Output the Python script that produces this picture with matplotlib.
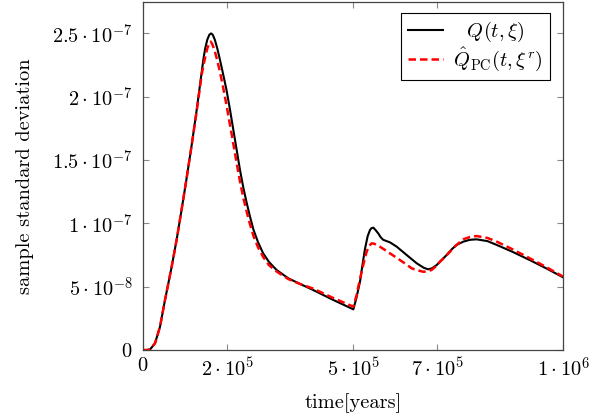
import matplotlib
matplotlib.use("Agg")
import matplotlib.pyplot as plt

plt.rcParams['font.family'] = 'serif'
plt.rcParams['font.serif'] = ['cmr10']
plt.rcParams['mathtext.fontset'] = 'cm'
plt.rcParams['axes.unicode_minus'] = False

# time in years
t_q = [0, 10e3, 17e3, 28.6e3, 40.5e3, 52.4e3, 68.3e3, 80e3, 92e3, 104e3, 116e3, 128e3,
       140e3, 144e3, 148e3, 153e3, 158e3, 162e3, 166e3, 171e3, 177e3, 183e3, 191e3, 199e3,
       207e3, 215e3, 223e3, 231e3, 239e3, 247e3, 255e3, 263e3, 274e3, 286e3, 300e3, 318e3,
       346e3, 375e3, 405e3, 450e3, 500.8e3, 508e3, 516.7e3, 522e3, 528.6e3, 535e3, 540.5e3,
       544e3, 548.4e3, 553e3, 560.3e3, 566e3, 572e3, 580e3, 588e3, 604e3, 627.8e3, 651.6e3,
       668e3, 679e3, 688e3, 699e3, 711e3, 723e3, 735e3, 746.8e3, 763e3, 778e3, 794e3,
       820e3, 842e3, 880e3, 921e3, 960e3, 1000e3]
q_std = [0, 0, 0.05e-8, 0.53e-8, 1.84e-8, 3.95e-8, 6.58e-8, 8.69e-8, 11.1e-8, 13.6e-8,
         16.2e-8, 19.0e-8, 22.0e-8, 23.0e-8, 23.8e-8, 24.5e-8, 24.9e-8, 25.0e-8, 24.9e-8,
         24.5e-8, 23.8e-8, 22.95e-8, 21.75e-8, 20.5e-8, 19.0e-8, 17.4e-8, 15.8e-8, 14.2e-8,
         12.8e-8, 11.6e-8, 10.5e-8, 9.5e-8, 8.5e-8, 7.64e-8, 6.95e-8, 6.32e-8, 5.66e-8,
         5.2e-8, 4.74e-8, 4.0e-8, 3.21e-8, 4.1e-8, 5.4e-8, 6.6e-8, 8.0e-8, 9.0e-8, 9.48e-8,
         9.62e-8, 9.66e-8, 9.5e-8, 9.2e-8, 8.9e-8, 8.7e-8, 8.6e-8, 8.5e-8, 8.16e-8, 7.5e-8,
         6.85e-8, 6.5e-8, 6.37e-8, 6.45e-8, 6.7e-8, 7.1e-8, 7.5e-8, 7.95e-8, 8.3e-8, 8.56e-8,
         8.7e-8, 8.74e-8, 8.6e-8, 8.3e-8, 7.75e-8, 7.1e-8, 6.45e-8, 5.74e-8]

t_pc = [0, 10e3, 17e3, 28.6e3, 40.5e3, 52.4e3, 68.3e3, 80e3, 92e3, 104e3, 116e3, 128e3,
        140e3, 144e3, 148e3, 153e3, 158e3, 161e3, 165e3, 170e3, 175e3, 183e3, 191e3, 199e3,
        207e3, 215e3, 223e3, 231e3, 239e3, 247e3, 255e3, 263e3, 274e3, 286e3, 300e3, 318e3,
        346e3, 375e3, 405e3, 450e3, 500.8e3, 508.7e3, 514e3, 520.6e3, 526e3, 532.5e3,
        538e3, 544.4e3, 550e3, 556e3, 564e3, 576e3, 588e3, 600e3, 612e3, 626e3, 639.7e3,
        653e3, 667e3, 677e3, 687e3, 697e3, 707e3, 719e3, 731e3, 740e3, 750.8e3, 763e3,
        778e3, 794e3, 820e3, 842e3, 880e3, 921e3, 960e3, 1000e3]
pc_std = [0, 0, 0.05e-8, 0.53e-8, 1.84e-8, 3.95e-8, 6.58e-8, 8.69e-8, 11.1e-8, 13.6e-8,
          16.2e-8, 18.9e-8, 21.8e-8, 22.5e-8, 23.1e-8, 23.8e-8, 24.25e-8, 24.35e-8, 24.15e-8,
          23.7e-8, 23.1e-8, 22.0e-8, 20.7e-8, 19.3e-8, 17.8e-8, 16.3e-8, 14.75e-8, 13.3e-8,
          12.0e-8, 10.9e-8, 9.9e-8, 9.0e-8, 8.1e-8, 7.35e-8, 6.7e-8, 6.2e-8, 5.6e-8, 5.2e-8,
          4.85e-8, 4.15e-8, 3.42e-8, 4.34e-8, 5.2e-8, 6.18e-8, 6.95e-8, 7.76e-8, 8.2e-8,
          8.42e-8, 8.4e-8, 8.3e-8, 8.16e-8, 7.9e-8, 7.63e-8, 7.37e-8, 7.1e-8, 6.78e-8,
          6.45e-8, 6.3e-8, 6.18e-8, 6.2e-8, 6.32e-8, 6.6e-8, 6.97e-8, 7.35e-8, 7.76e-8,
          8.1e-8, 8.42e-8, 8.75e-8, 8.92e-8, 9.0e-8, 8.85e-8, 8.56e-8, 7.95e-8, 7.24e-8,
          6.55e-8, 5.8e-8]

xticks = [0, 2e5, 5e5, 7e5, 1e6]
xtick_labels = [r'$0$', r'$2\cdot 10^{5}$', r'$5\cdot 10^{5}$', r'$7\cdot 10^{5}$', r'$1\cdot 10^{6}$']
yticks = [0, 5e-8, 1e-7, 1.5e-7, 2e-7, 2.5e-7]
ytick_labels = [r'$0$', r'$5\cdot 10^{-8}$', r'$1\cdot 10^{-7}$', r'$1.5\cdot 10^{-7}$',
                r'$2\cdot 10^{-7}$', r'$2.5\cdot 10^{-7}$']

FS = 14.7

fig = plt.figure(figsize=(6.04, 4.19), dpi=100)
ax = fig.add_axes([143/604, 69/419, 420/604, 348/419])

ax.plot(t_q, q_std, color='black', lw=1.5, label=r'$\enspace\;Q(t,\mathbf{\xi})$')
ax.plot(t_pc, pc_std, color='red', lw=1.8, dashes=(3, 1.6),
        label=r'$\hat{Q}_{\mathrm{PC}}(t,\mathbf{\xi}^r)$')

ax.set_xlim(0, 1e6)
ax.set_ylim(0, 2.748e-7)
ax.set_xticks(xticks)
ax.set_xticklabels(xtick_labels)
ax.set_yticks(yticks)
ax.set_yticklabels(ytick_labels)
ax.tick_params(direction='in', top=True, right=True, length=4, color='#888888',
               labelsize=FS)
ax.tick_params(axis='x', pad=5)
ax.tick_params(axis='y', pad=7.5)
for s in ax.spines.values():
    s.set_color('#444444')
    s.set_linewidth(0.9)

ax.set_xlabel('time[years]', fontsize=FS, labelpad=8.5)
ax.set_ylabel('sample standard deviation', fontsize=FS, labelpad=13)

leg = ax.legend(loc='upper right', fontsize=FS, fancybox=False, edgecolor='black',
                framealpha=1, handlelength=1.7, handletextpad=0.5, borderpad=0.35,
                labelspacing=0.05, borderaxespad=0,
                bbox_to_anchor=((550 - 143) / 420, (350 - 13) / 348))
leg.get_frame().set_linewidth(0.8)

fig.savefig('out.png', dpi=100)
